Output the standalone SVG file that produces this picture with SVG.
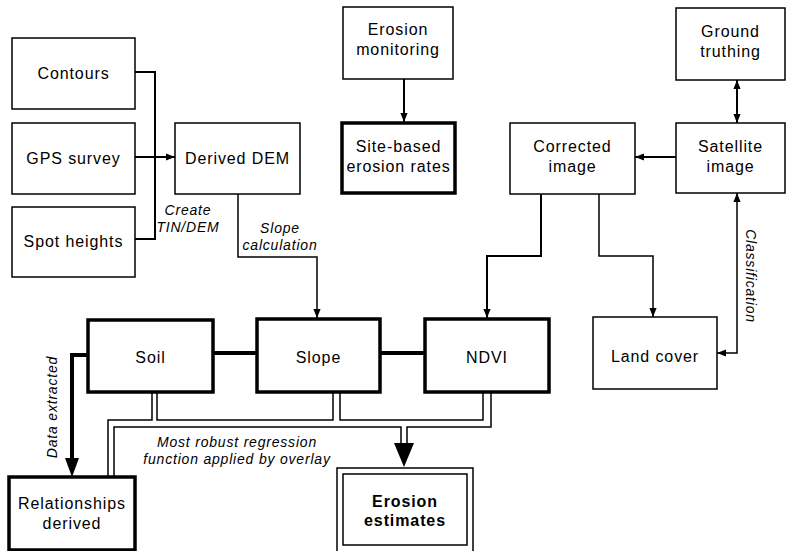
<svg xmlns="http://www.w3.org/2000/svg" width="790" height="551" viewBox="0 0 790 551">
<style>
.box{fill:#fff;stroke:#000;stroke-width:1.5}
.thick{fill:#fff;stroke:#000;stroke-width:3.5}
.lbl{font-family:"Liberation Sans",Arial,sans-serif;font-size:16px;letter-spacing:0.9px;text-anchor:middle;fill:#000}
.bold{font-weight:bold}
.it{font-family:"Liberation Sans",Arial,sans-serif;font-size:14px;font-style:italic;letter-spacing:0.8px;text-anchor:middle;fill:#000}
.ln{fill:none;stroke:#000;stroke-width:1.5}
.ln2{fill:none;stroke:#000;stroke-width:2}
.ln4{fill:none;stroke:#000;stroke-width:4}
</style>
<defs>
<marker id="ah" viewBox="0 0 10 8" refX="10" refY="4" markerWidth="9" markerHeight="7.5" markerUnits="userSpaceOnUse" orient="auto-start-reverse">
<path d="M0,0 L10,4 L0,8 z" fill="#000"/>
</marker>
</defs>
<rect width="790" height="551" fill="#fff"/>
<g id="connectors">
<path class="ln2" d="M135,72 H155 V239 H135"/>
<path class="ln2" d="M135,157 H175" marker-end="url(#ah)"/>
<path class="ln" d="M238,194 V257 H317 V318" marker-end="url(#ah)"/>
<path class="ln2" d="M404,79 V122" marker-end="url(#ah)"/>
<path class="ln2" d="M737,80 V123" marker-start="url(#ah)" marker-end="url(#ah)"/>
<path class="ln2" d="M676,157 H635" marker-end="url(#ah)"/>
<path class="ln2" d="M541,194 V256 H487 V318" marker-end="url(#ah)"/>
<path class="ln" d="M599,194 V256 H653 V317" marker-end="url(#ah)"/>
<path class="ln" d="M737,193 V353 H717" marker-start="url(#ah)" marker-end="url(#ah)"/>
<path class="ln4" d="M213,353 H257 M380,353 H425"/>
<path class="ln4" d="M88,355 H72 V460"/>
<polygon points="65,458 79,458 72,477" fill="#000"/>
<path class="ln" d="M152,392 V420 H108 V477"/>
<path class="ln" d="M157,392 V420 H333 V392"/>
<path class="ln" d="M340,392 V420 H483 V392"/>
<path class="ln" d="M491,392 V427 H407 V444"/>
<path class="ln" d="M114,477 V427 H401 V444"/>
<polygon points="394,443 414,443 404,467" fill="#000"/>
<text class="it" x="188" y="215">Create</text>
<text class="it" x="188" y="232">TIN/DEM</text>
<text class="it" x="280" y="233">Slope</text>
<text class="it" x="280" y="250">calculation</text>
<text class="it" transform="translate(57,407) rotate(-90)">Data extracted</text>
<text class="it" transform="translate(746,276) rotate(90)">Classification</text>
<text class="it" x="237" y="447">Most robust regression</text>
<text class="it" x="237" y="464">function applied by overlay</text>
</g>
<g id="contours"><rect class="box" x="12" y="38" width="123" height="71"/><text class="lbl" x="73.5" y="79">Contours</text></g>
<g id="gps"><rect class="box" x="12" y="123" width="123" height="71"/><text class="lbl" x="73.5" y="164">GPS survey</text></g>
<g id="spot"><rect class="box" x="12" y="207" width="123" height="70"/><text class="lbl" x="73.5" y="247">Spot heights</text></g>
<g id="dem"><rect class="box" x="175" y="123" width="125" height="71"/><text class="lbl" x="237.5" y="164">Derived DEM</text></g>
<g id="monitoring"><rect class="box" x="343" y="7" width="110" height="72"/><text class="lbl" x="398" y="35">Erosion</text><text class="lbl" x="398" y="55">monitoring</text></g>
<g id="site"><rect class="thick" x="342" y="123" width="113" height="70"/><text class="lbl" x="398.5" y="152">Site-based</text><text class="lbl" x="398.5" y="172">erosion rates</text></g>
<g id="ground"><rect class="box" x="676" y="8" width="109" height="72"/><text class="lbl" x="730.5" y="37">Ground</text><text class="lbl" x="730.5" y="57">truthing</text></g>
<g id="satellite"><rect class="box" x="676" y="123" width="109" height="70"/><text class="lbl" x="730.5" y="152">Satellite</text><text class="lbl" x="730.5" y="172">image</text></g>
<g id="corrected"><rect class="box" x="510" y="123" width="125" height="71"/><text class="lbl" x="572.5" y="152">Corrected</text><text class="lbl" x="572.5" y="172">image</text></g>
<g id="soil"><rect class="thick" x="88" y="320" width="125" height="72"/><text class="lbl" x="150.5" y="363">Soil</text></g>
<g id="slope"><rect class="thick" x="257" y="319" width="123" height="73"/><text class="lbl" x="318.5" y="363">Slope</text></g>
<g id="ndvi"><rect class="thick" x="425" y="319" width="124" height="73"/><text class="lbl" x="487" y="363">NDVI</text></g>
<g id="landcover"><rect class="box" x="593" y="317" width="124" height="72"/><text class="lbl" x="655" y="362">Land cover</text></g>
<g id="relationships"><rect class="thick" x="9" y="477" width="126" height="73"/><text class="lbl" x="72" y="509">Relationships</text><text class="lbl" x="72" y="529">derived</text></g>
<g id="estimates"><rect class="box" x="337" y="468" width="136" height="86"/><rect class="box" x="343" y="474" width="124" height="71"/><text class="lbl bold" x="405" y="507">Erosion</text><text class="lbl bold" x="405" y="526">estimates</text></g>
</svg>
